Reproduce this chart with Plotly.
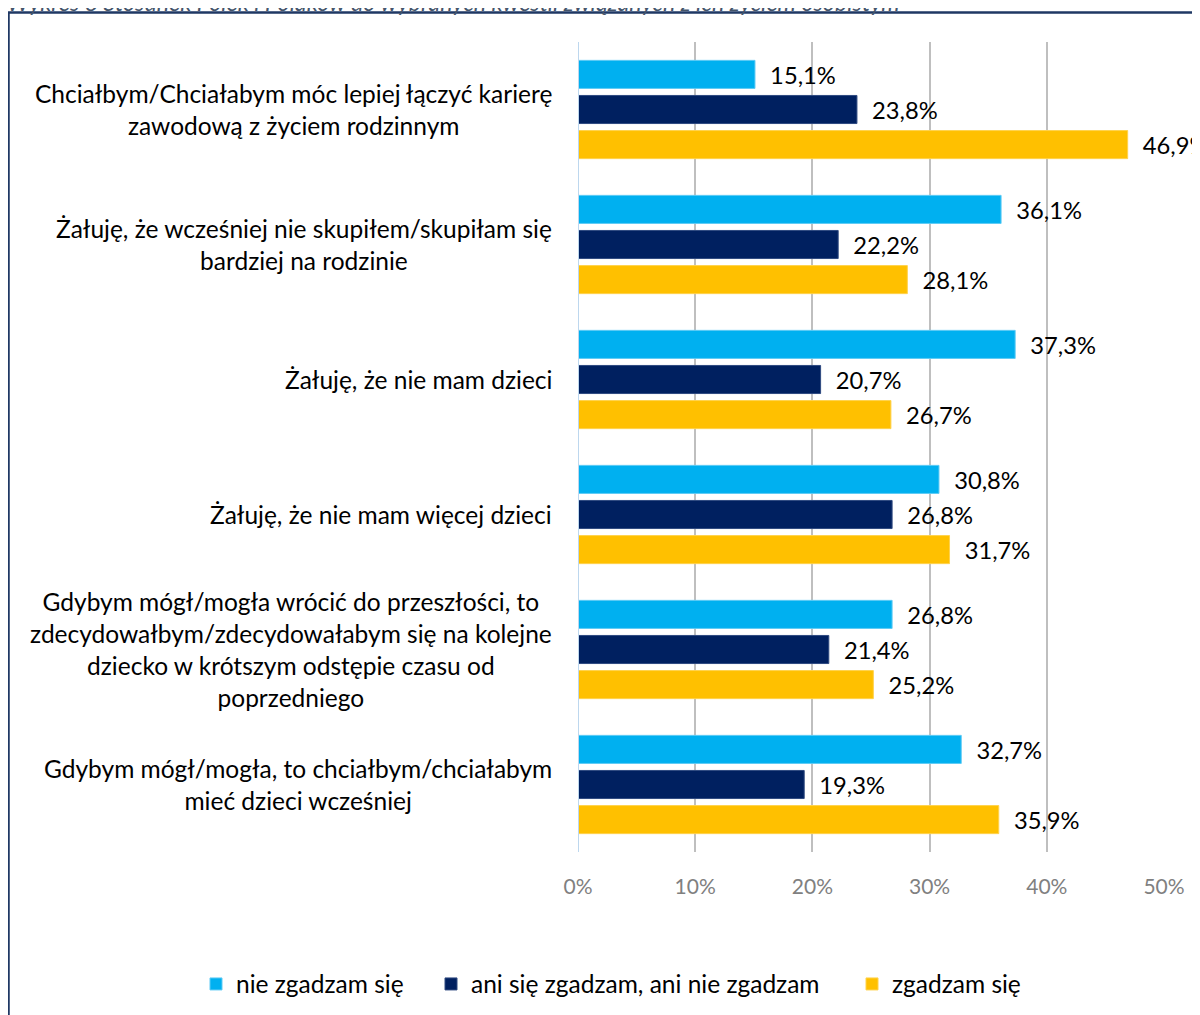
import plotly.graph_objects as go

categories = [
    "Chciałbym/Chciałabym móc lepiej łączyć karierę<br>zawodową z życiem rodzinnym",
    "Żałuję, że wcześniej nie skupiłem/skupiłam się<br>bardziej na rodzinie",
    "Żałuję, że nie mam dzieci",
    "Żałuję, że nie mam więcej dzieci",
    "Gdybym mógł/mogła wrócić do przeszłości, to<br>zdecydowałbym/zdecydowałabym się na kolejne<br>dziecko w krótszym odstępie czasu od<br>poprzedniego",
    "Gdybym mógł/mogła, to chciałbym/chciałabym<br>mieć dzieci wcześniej",
]
series_names = ["nie zgadzam się", "ani się zgadzam, ani nie zgadzam", "zgadzam się"]
nie_zgadzam = [15.1, 36.1, 37.3, 30.8, 26.8, 32.7]
ani_ani = [23.8, 22.2, 20.7, 26.8, 21.4, 19.3]
zgadzam = [46.9, 28.1, 26.7, 31.7, 25.2, 35.9]
colors = ["#00B0F0", "#002060", "#FFC000"]
line_colors = ["#5FCBF5", "#2F4A80", "#FFD24D"]
tick_vals = [0, 10, 20, 30, 40, 50]
tick_text = ["0%", "10%", "20%", "30%", "40%", "50%"]
title_text = "Wykres 8 Stosunek Polek i Polaków do wybranych kwestii związanych z ich życiem osobistym"

FONT = "Lato"
W, H = 1200, 1015
OFF = 8  # page body offset
PL, PR, PT, PB = 578 - OFF, 1164 - OFF, 42 - OFF, 852 - OFF
PW, PH = PR - PL, PB - PT
legend_ids = ["legend", "legend2", "legend3"]
legend_px = [196, 431, 852]

fig = go.Figure()
idx = list(range(len(categories)))
for name, vals, c, lc, lid in zip(series_names, [nie_zgadzam, ani_ani, zgadzam], colors, line_colors, legend_ids):
    fig.add_trace(go.Bar(
        y=idx, x=vals, name=name, orientation="h", legend=lid,
        marker=dict(color=c, line=dict(color=lc, width=1)),
        text=["\u00a0\u00a0" + f"{v:.1f}".replace(".", ",") + "%" for v in vals],
        textposition="outside", cliponaxis=False,
        textfont=dict(family=FONT, size=24.5, color="#000000"),
    ))

for i, cat in enumerate(categories):
    fig.add_annotation(
        x=0, xref="paper", y=i, yref="y", text=cat, showarrow=False,
        xanchor="right", yanchor="middle", align="center", xshift=-24,
        font=dict(family=FONT, size=24.5, color="#000000"),
    )

fig.add_annotation(
    x=(-3 - PL) / PW, xref="paper", y=1, yref="paper", text="<i>" + title_text + "</i>",
    showarrow=False, xanchor="left", yanchor="bottom", yshift=24,
    font=dict(family=FONT, size=23.3, color="#44546A"),
)

fig.add_shape(
    type="rect", xref="paper", yref="paper",
    x0=(8.5 - OFF - PL) / PW, x1=1.2, y0=-0.3, y1=1 + (PT - (12.5 - OFF)) / PH,
    line=dict(color="#1F3864", width=2.5), fillcolor="rgba(0,0,0,0)", layer="below",
)

legend_common = dict(
    orientation="h", xref="container", yref="container",
    xanchor="left", y=1 - (984 - OFF) / H, yanchor="middle",
    font=dict(family=FONT, size=24.5, color="#000000"),
    itemwidth=30, bgcolor="rgba(0,0,0,0)", borderwidth=0,
)
legend_layout = {lid: dict(legend_common, x=(px - OFF) / W) for lid, px in zip(legend_ids, legend_px)}

fig.update_layout(
    width=W, height=H,
    margin=dict(l=PL, r=W - PR, t=PT, b=H - PB, autoexpand=False),
    paper_bgcolor="white", plot_bgcolor="white",
    barmode="group", bargap=0.22, bargroupgap=0.2,
    showlegend=True,
    xaxis=dict(
        range=[0, 50], tickvals=tick_vals, ticktext=tick_text,
        showgrid=True, gridcolor="#BFBFBF", gridwidth=1.5,
        zeroline=False, showline=False, ticks="",
        ticklabelstandoff=20,
        tickfont=dict(family=FONT, size=21, color="#808080"),
    ),
    yaxis=dict(
        range=[len(categories) - 0.5, -0.5], showticklabels=False,
        showgrid=False, zeroline=False, showline=False, ticks="",
    ),
    **legend_layout,
)
fig.add_shape(type="line", xref="x", yref="paper", x0=0, x1=0, y0=0, y1=1,
              line=dict(color="#BDD7EE", width=2), layer="above")

fig.write_html("out.html")
